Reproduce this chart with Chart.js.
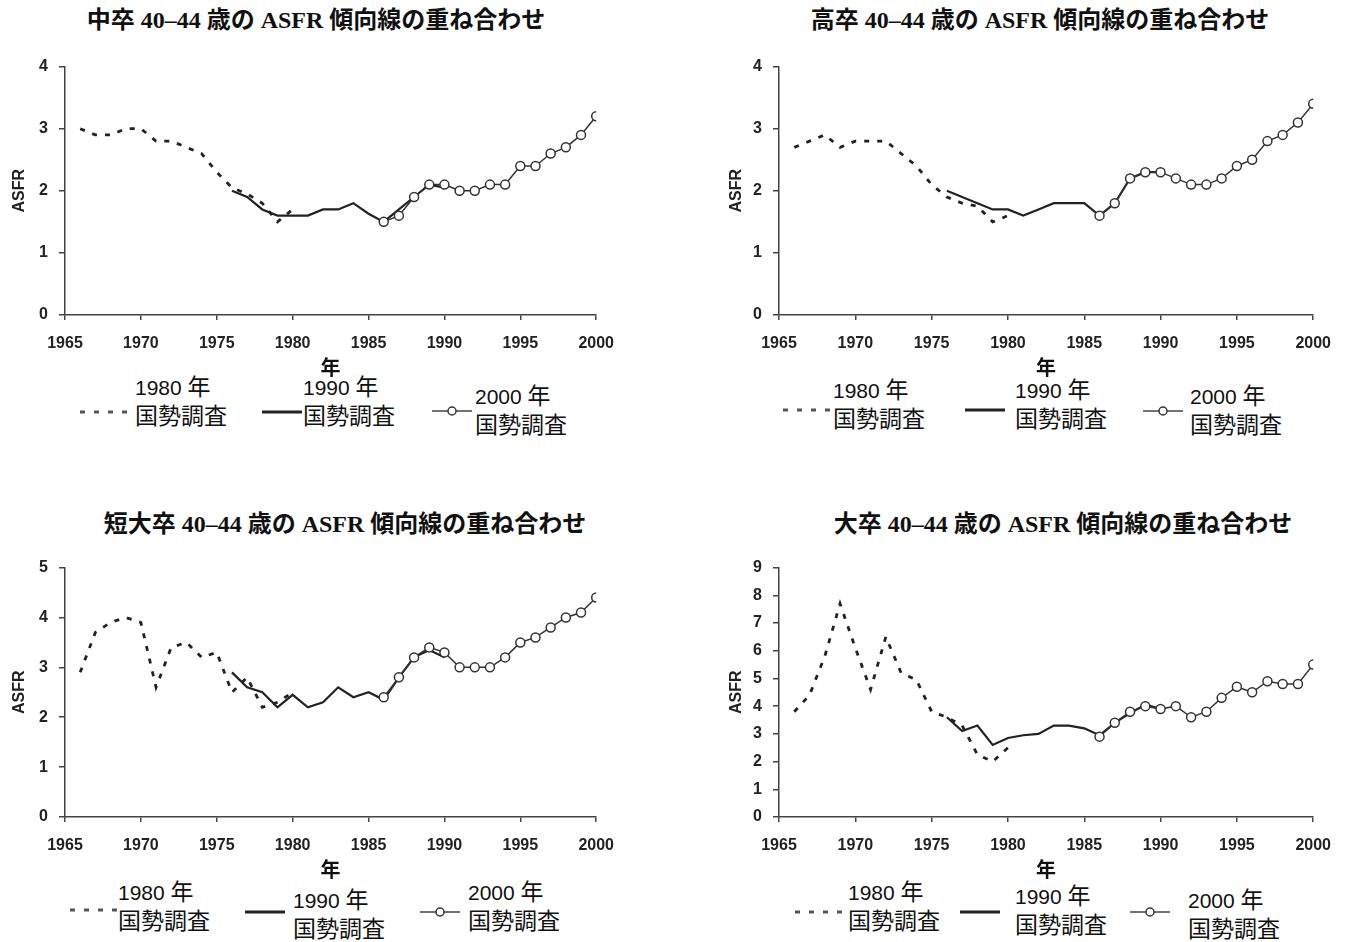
<!DOCTYPE html>
<html>
<head>
<meta charset="utf-8">
<script src="https://cdn.jsdelivr.net/npm/chart.js@4.4.1/dist/chart.umd.min.js"></script>
<style>
  body { margin: 0; background: #fff; }
  #page { position: relative; width: 1357px; height: 942px; overflow: hidden; background: #fff; }
  canvas { position: absolute; }
  .title {
    position: absolute; white-space: nowrap; transform: translateX(-50%);
    font-family: "Liberation Serif", "Noto Sans CJK JP", serif; font-weight: bold; font-size: 24px; color: #111;
  }
  .lg {
    position: absolute; white-space: nowrap; line-height: 27px;
    font-family: "Liberation Sans", "Noto Sans CJK JP", sans-serif; font-size: 21px; color: #111;
  }
  .lg .k { font-family: "Noto Sans CJK JP", sans-serif; font-size: 23px; line-height: 27px; }
  svg.sw { position: absolute; }
</style>
</head>
<body>
<div id="page"></div>
<script>
const years1980 = [1966, 1967, 1968, 1969, 1970, 1971, 1972, 1973, 1974, 1975, 1976, 1977, 1978, 1979, 1980];
const years1990 = [1976, 1977, 1978, 1979, 1980, 1981, 1982, 1983, 1984, 1985, 1986, 1987, 1988, 1989, 1990];
const years2000 = [1986, 1987, 1988, 1989, 1990, 1991, 1992, 1993, 1994, 1995, 1996, 1997, 1998, 1999, 2000];

// 中卒
const chu1980 = [3.0, 2.9, 2.9, 3.0, 3.0, 2.8, 2.8, 2.7, 2.6, 2.3, 2.05, 1.95, 1.8, 1.5, 1.7];
const chu1990 = [2.0, 1.9, 1.7, 1.6, 1.6, 1.6, 1.7, 1.7, 1.8, 1.63, 1.5, 1.7, 1.9, 2.1, 2.05];
const chu2000 = [1.5, 1.6, 1.9, 2.1, 2.1, 2.0, 2.0, 2.1, 2.1, 2.4, 2.4, 2.6, 2.7, 2.9, 3.2];
// 高卒
const kou1980 = [2.7, 2.8, 2.9, 2.7, 2.8, 2.8, 2.8, 2.6, 2.4, 2.1, 1.9, 1.8, 1.75, 1.5, 1.6];
const kou1990 = [2.0, 1.9, 1.8, 1.7, 1.7, 1.6, 1.7, 1.8, 1.8, 1.8, 1.6, 1.8, 2.2, 2.3, 2.3];
const kou2000 = [1.6, 1.8, 2.2, 2.3, 2.3, 2.2, 2.1, 2.1, 2.2, 2.4, 2.5, 2.8, 2.9, 3.1, 3.4];
// 短大卒
const tan1980 = [2.9, 3.7, 3.9, 4.0, 3.9, 2.6, 3.4, 3.5, 3.2, 3.3, 2.5, 2.8, 2.2, 2.3, 2.5];
const tan1990 = [2.9, 2.6, 2.5, 2.2, 2.45, 2.2, 2.3, 2.6, 2.4, 2.5, 2.35, 2.8, 3.2, 3.35, 3.2];
const tan2000 = [2.4, 2.8, 3.2, 3.4, 3.3, 3.0, 3.0, 3.0, 3.2, 3.5, 3.6, 3.8, 4.0, 4.1, 4.4];
// 大卒
const dai1980 = [3.8, 4.4, 5.8, 7.7, 6.1, 4.6, 6.5, 5.2, 4.95, 3.8, 3.6, 3.3, 2.25, 2.0, 2.5];
const dai1990 = [3.6, 3.1, 3.3, 2.6, 2.85, 2.95, 3.0, 3.3, 3.3, 3.2, 2.95, 3.4, 3.75, 4.05, 3.9];
const dai2000 = [2.9, 3.4, 3.8, 4.0, 3.9, 4.0, 3.6, 3.8, 4.3, 4.7, 4.5, 4.9, 4.8, 4.8, 5.5];

const panels = [
  { title: '中卒 40–44 歳の ASFR 傾向線の重ね合わせ', tx: 316, ty: 0, left: 0, top: 46, h: 337, w: 628, yMax: 4,
    d80: chu1980, d90: chu1990, d00: chu2000, titlePad: 10,
    legend: [[80, 412, 135, 372, 'dash'], [262, 412, 303, 372, 'solid'], [432, 411, 475, 381, 'circle']] },
  { title: '高卒 40–44 歳の ASFR 傾向線の重ね合わせ', tx: 1040, ty: 0, left: 714, top: 46, h: 337, w: 631, yMax: 4,
    d80: kou1980, d90: kou1990, d00: kou2000, titlePad: 13,
    legend: [[783, 410, 833, 375, 'dash'], [965, 410, 1015, 375, 'solid'], [1143, 411, 1190, 381, 'circle']] },
  { title: '短大卒 40–44 歳の ASFR 傾向線の重ね合わせ', tx: 345, ty: 504, left: 0, top: 547, h: 338, w: 628, yMax: 5,
    d80: tan1980, d90: tan1990, d00: tan2000, titlePad: 10,
    legend: [[70, 910, 118, 877, 'dash'], [245, 912, 293, 885, 'solid'], [420, 912, 468, 877, 'circle']] },
  { title: '大卒 40–44 歳の ASFR 傾向線の重ね合わせ', tx: 1063, ty: 504, left: 714, top: 547, h: 338, w: 631, yMax: 9,
    d80: dai1980, d90: dai1990, d00: dai2000, titlePad: 13,
    legend: [[795, 912, 848, 877, 'dash'], [960, 912, 1015, 881, 'solid'], [1130, 912, 1188, 885, 'circle']] }
];

const legendYears = ['1980', '1990', '2000'];
const page = document.getElementById('page');

function pts(xs, ys) {
  return xs.map((x, i) => ({ x: x, y: ys[i] }));
}

function addSwatch(x, y, kind) {
  const ns = 'http://www.w3.org/2000/svg';
  const svg = document.createElementNS(ns, 'svg');
  svg.setAttribute('class', 'sw');
  svg.setAttribute('width', 50);
  svg.setAttribute('height', 14);
  svg.style.left = x + 'px';
  svg.style.top = (y - 7) + 'px';
  if (kind === 'dash') {
    svg.innerHTML = '<line x1="0" y1="7" x2="48" y2="7" stroke="#555" stroke-width="2.8" stroke-dasharray="5 9"/>';
  } else if (kind === 'solid') {
    svg.innerHTML = '<line x1="0" y1="7" x2="40" y2="7" stroke="#222" stroke-width="3"/>';
  } else {
    svg.innerHTML = '<line x1="0" y1="7" x2="40" y2="7" stroke="#444" stroke-width="1.5"/>' +
      '<circle cx="20" cy="7" r="4" fill="#fff" stroke="#333" stroke-width="1.5"/>';
  }
  page.appendChild(svg);
}

panels.forEach(p => {
  const t = document.createElement('div');
  t.className = 'title';
  t.style.left = p.tx + 'px';
  t.style.top = p.ty + 'px';
  t.textContent = p.title;
  page.appendChild(t);

  p.legend.forEach((l, i) => {
    addSwatch(l[0], l[1], l[4]);
    const d = document.createElement('div');
    d.className = 'lg';
    d.style.left = l[2] + 'px';
    d.style.top = l[3] + 'px';
    d.innerHTML = legendYears[i] + ' <span class="k">年</span><br><span class="k">国勢調査</span>';
    page.appendChild(d);
  });

  const canvas = document.createElement('canvas');
  canvas.style.left = p.left + 'px';
  canvas.style.top = p.top + 'px';
  canvas.width = p.w;
  canvas.height = p.h;
  page.appendChild(canvas);

  const axisColor = '#444';
  const tickFont = { family: '"Liberation Sans", Arial, sans-serif', size: 16, weight: 'bold' };

  new Chart(canvas.getContext('2d'), {
    type: 'line',
    data: {
      datasets: [
        { label: '2000 年国勢調査', data: pts(years2000, p.d00), borderColor: '#333', borderWidth: 1.5,
          pointRadius: 4.5, pointBackgroundColor: '#fff', pointBorderColor: '#333', pointBorderWidth: 1.5 },
        { label: '1990 年国勢調査', data: pts(years1990, p.d90), borderColor: '#222', borderWidth: 2.2, pointRadius: 0 },
        { label: '1980 年国勢調査', data: pts(years1980, p.d80), borderColor: '#222', borderWidth: 2.8,
          borderDash: [5, 8], pointRadius: 0 }
      ]
    },
    options: {
      responsive: false,
      animation: false,
      layout: { padding: { top: 12, right: 30, bottom: 4, left: 0 } },
      plugins: { legend: { display: false }, tooltip: { enabled: false } },
      elements: { line: { tension: 0 } },
      scales: {
        x: {
          type: 'linear', min: 1965, max: 2000,
          afterFit: s => { s.height = 64; },
          border: { color: axisColor, width: 1.5 },
          grid: { drawOnChartArea: false, color: axisColor, lineWidth: 1.5, tickLength: 5 },
          ticks: { stepSize: 5, color: '#222', font: tickFont, padding: 14, maxRotation: 0,
            callback: v => String(v) },
          title: { display: true, text: '年', color: '#111', padding: 0,
            font: { family: '"Noto Sans CJK JP", sans-serif', size: 20, weight: 'bold', lineHeight: 1.2 } }
        },
        y: {
          min: 0, max: p.yMax,
          afterFit: s => { s.width = 65; },
          border: { color: axisColor, width: 1.5 },
          grid: { drawOnChartArea: false, color: axisColor, lineWidth: 1.5, tickLength: 6 },
          ticks: { stepSize: 1, color: '#222', font: tickFont, padding: 11 },
          title: { display: true, text: 'ASFR', color: '#222', padding: { top: p.titlePad, bottom: 0 },
            font: { family: '"Liberation Sans", Arial, sans-serif', size: 16, weight: 'bold', lineHeight: 1.2 } }
        }
      }
    }
  });
});
</script>
</body>
</html>
